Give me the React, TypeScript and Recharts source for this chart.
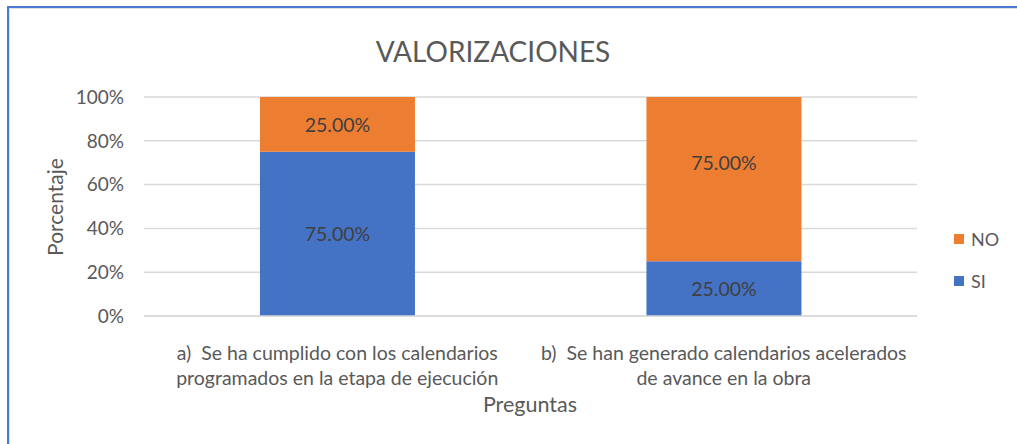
import * as React from "react";
import {
  Bar,
  BarChart,
  CartesianGrid,
  LabelList,
  Legend,
  XAxis,
  YAxis,
} from "recharts";

const preguntas = [
  "a)  Se ha cumplido con los calendarios\nprogramados en la etapa de ejecución",
  "b)  Se han generado calendarios acelerados\nde avance en la obra",
];
const si = [0.75, 0.25];
const no = [0.25, 0.75];
const yTicks = [0, 0.2, 0.4, 0.6, 0.8, 1];

const data = preguntas.map((p, i) => ({ pregunta: p, SI: si[i], NO: no[i] }));

const FONT = "Lato, 'Open Sans', sans-serif";
const TEXT = "#595959";

const pct = (v: number) => `${Math.round(v * 100)}%`;
const pct2 = (v: number) => `${(v * 100).toFixed(2)}%`;

function CategoryTick(props: any) {
  const { x, y, payload } = props;
  const lines = String(payload.value).split("\n");
  return (
    <g transform={`translate(${x},${y})`}>
      {lines.map((l, i) => (
        <text
          key={i}
          x={0}
          y={36 + i * 25}
          textAnchor="middle"
          fill={TEXT}
          fontSize={19.5}
          fontFamily={FONT}
          style={{ whiteSpace: "pre" }}
        >
          {l}
        </text>
      ))}
    </g>
  );
}

// the big orange label of the second bar sits a bit above its centre in the original
function makeValueLabel(lift: number[]) {
  return (props: any) => {
    const { x, y, width, height, value, index } = props;
    return (
      <text
        x={x + width / 2}
        y={y + height / 2 - (lift[index] ?? 0)}
        textAnchor="middle"
        dominantBaseline="central"
        fill="#404040"
        fontSize={19.5}
        fontFamily={FONT}
      >
        {pct2(Number(value))}
      </text>
    );
  };
}

function LegendBox() {
  const items = [
    { name: "NO", color: "#ED7D31" },
    { name: "SI", color: "#4472C4" },
  ];
  return (
    <div style={{ paddingLeft: 37, fontFamily: FONT, fontSize: 18, color: TEXT }}>
      {items.map((it) => (
        <div
          key={it.name}
          style={{ display: "flex", alignItems: "center", height: 42 }}
        >
          <span
            style={{
              display: "inline-block",
              width: 10,
              height: 10,
              background: it.color,
              marginRight: 7,
            }}
          />
          {it.name}
        </div>
      ))}
    </div>
  );
}

export default function App() {
  return (
    <div
      style={{
        position: "fixed",
        left: 0,
        top: 0,
        width: 1017,
        height: 444,
        background: "#fff",
      }}
    >
      <div
        style={{
          position: "absolute",
          left: 7,
          top: 6,
          right: 0,
          bottom: -10,
          borderTop: "2px solid #4a7bd0",
          borderLeft: "2px solid #4a7bd0",
        }}
      >
        <div
          style={{
            position: "absolute",
            inset: 0,
            borderTop: "1px solid #e0e0e0",
            borderLeft: "1px solid #e0e0e0",
          }}
        />
      </div>
      <BarChart
        width={1017}
        height={444}
        data={data}
        margin={{ top: 97, right: 0, bottom: 0, left: 0 }}
        barCategoryGap="30%"
        style={{ position: "absolute", left: 0, top: 0 }}
      >
        <text
          x={493}
          y={62}
          textAnchor="middle"
          fill={TEXT}
          fontSize={28}
          fontFamily={FONT}
        >
          VALORIZACIONES
        </text>
        <text
          x={63}
          y={207}
          textAnchor="middle"
          fill={TEXT}
          fontSize={21}
          fontFamily={FONT}
          transform="rotate(-90 63 207)"
        >
          Porcentaje
        </text>
        <text
          x={530}
          y={412}
          textAnchor="middle"
          fill={TEXT}
          fontSize={21.5}
          fontFamily={FONT}
        >
          Preguntas
        </text>
        <CartesianGrid vertical={false} stroke="#D9D9D9" strokeWidth={1.5} />
        <XAxis
          dataKey="pregunta"
          height={128}
          tickLine={false}
          axisLine={{ stroke: "#D9D9D9", strokeWidth: 1.5 }}
          tick={<CategoryTick />}
          interval={0}
        />
        <YAxis
          width={144}
          domain={[0, 1]}
          ticks={yTicks}
          tickFormatter={pct}
          tickLine={false}
          axisLine={false}
          tickSize={0}
          tickMargin={20}
          tick={{ fill: TEXT, fontSize: 19, fontFamily: FONT }}
        />
        <Legend
          layout="vertical"
          align="right"
          verticalAlign="middle"
          width={100}
          content={<LegendBox />}
          wrapperStyle={{ top: 218 }}
        />
        <Bar dataKey="SI" stackId="a" fill="#4472C4" isAnimationActive={false}>
          <LabelList dataKey="SI" content={makeValueLabel([0, 0])} />
        </Bar>
        <Bar dataKey="NO" stackId="a" fill="#ED7D31" isAnimationActive={false}>
          <LabelList dataKey="NO" content={makeValueLabel([0, 17])} />
        </Bar>
      </BarChart>
    </div>
  );
}
